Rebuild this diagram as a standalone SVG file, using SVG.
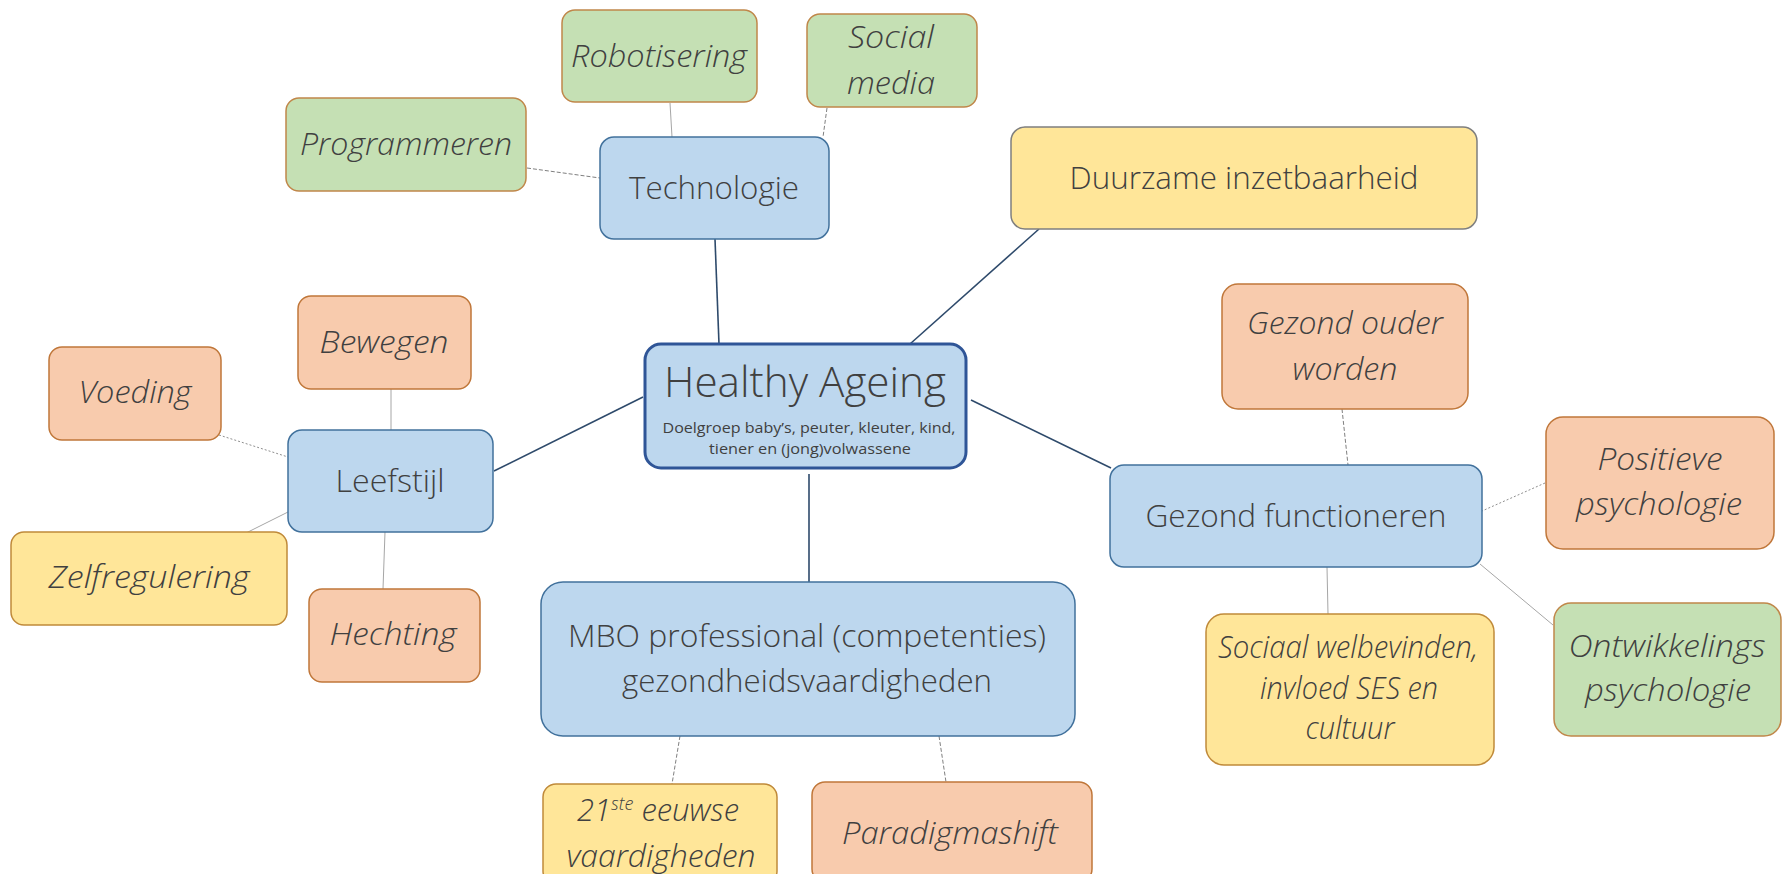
<svg xmlns="http://www.w3.org/2000/svg" width="1783" height="874" viewBox="0 0 1783 874">
<style>
.b{fill:#bdd7ee;stroke:#41719c;stroke-width:1.5}
.g{fill:#c5e0b4;stroke:#c0874a;stroke-width:1.5}
.o{fill:#f8cbad;stroke:#c0773a;stroke-width:1.5}
.y{fill:#ffe699;stroke:#c08a3a;stroke-width:1.5}
.yg{fill:#ffe699;stroke:#7f7f7f;stroke-width:1.5}
.core{fill:#bdd7ee;stroke:#2f5597;stroke-width:3}
text{font-family:"Open Sans","Liberation Sans",sans-serif;fill:#404040;text-anchor:middle;font-weight:300}
.t{font-size:31px}
.i{font-size:31px;font-style:italic}
.main{stroke:#2e4a6b;stroke-width:1.6;fill:none}
.sub{stroke:#a6a6a6;stroke-width:1;fill:none}
.dash{stroke:#7f7f7f;stroke-width:1;stroke-dasharray:4 2;fill:none}
.dot{stroke:#8f8f8f;stroke-width:1;stroke-dasharray:2 2;fill:none}
</style>
<rect width="1783" height="874" fill="#ffffff"/>
<g id="connectors">
<line class="main" x1="715" y1="239" x2="719" y2="344"/>
<line class="main" x1="1039" y1="229" x2="910" y2="344"/>
<line class="main" x1="494" y1="471" x2="643" y2="397"/>
<line class="main" x1="809" y1="474" x2="809" y2="582"/>
<line class="main" x1="971" y1="400" x2="1111" y2="468"/>
<line class="dash" x1="527" y1="168" x2="600" y2="178"/>
<line class="sub" x1="670" y1="103" x2="672" y2="137"/>
<line class="dash" x1="827" y1="108" x2="823" y2="137"/>
<line class="sub" x1="391" y1="389" x2="391" y2="430"/>
<line class="dot" x1="219" y1="435" x2="288" y2="457"/>
<line class="sub" x1="244" y1="534" x2="288" y2="512"/>
<line class="sub" x1="383" y1="589" x2="385" y2="532"/>
<line class="dash" x1="1342" y1="409" x2="1348" y2="465"/>
<line class="dot" x1="1545" y1="483" x2="1482" y2="511"/>
<line class="sub" x1="1480" y1="564" x2="1553" y2="625"/>
<line class="sub" x1="1327" y1="567" x2="1328" y2="614"/>
<line class="dash" x1="680" y1="736" x2="672" y2="784"/>
<line class="dash" x1="939" y1="736" x2="946" y2="782"/>
</g>
<g id="robotisering"><rect class="g" x="562" y="10" width="195" height="92" rx="13"/><text class="i" x="659" y="67" textLength="176" lengthAdjust="spacingAndGlyphs">Robotisering</text></g>
<g id="social-media"><rect class="g" x="807" y="14" width="170" height="93" rx="13"/><text class="i" x="891" y="48" textLength="86" lengthAdjust="spacingAndGlyphs">Social</text><text class="i" x="891" y="94" textLength="88" lengthAdjust="spacingAndGlyphs">media</text></g>
<g id="programmeren"><rect class="g" x="286" y="98" width="240" height="93" rx="13"/><text class="i" x="406" y="155" textLength="212" lengthAdjust="spacingAndGlyphs">Programmeren</text></g>
<g id="technologie"><rect class="b" x="600" y="137" width="229" height="102" rx="14"/><text class="t" x="714" y="199" textLength="170" lengthAdjust="spacingAndGlyphs">Technologie</text></g>
<g id="duurzame"><rect class="yg" x="1011" y="127" width="466" height="102" rx="14"/><text class="t" x="1244" y="189" textLength="349" lengthAdjust="spacingAndGlyphs">Duurzame inzetbaarheid</text></g>
<g id="bewegen"><rect class="o" x="298" y="296" width="173" height="93" rx="13"/><text class="i" x="384" y="353" textLength="129" lengthAdjust="spacingAndGlyphs">Bewegen</text></g>
<g id="voeding"><rect class="o" x="49" y="347" width="172" height="93" rx="13"/><text class="i" x="135" y="403" textLength="113" lengthAdjust="spacingAndGlyphs">Voeding</text></g>
<g id="leefstijl"><rect class="b" x="288" y="430" width="205" height="102" rx="14"/><text class="t" x="390" y="492" textLength="109" lengthAdjust="spacingAndGlyphs">Leefstijl</text></g>
<g id="zelfregulering"><rect class="y" x="11" y="532" width="276" height="93" rx="13"/><text class="i" x="149" y="588" textLength="201" lengthAdjust="spacingAndGlyphs">Zelfregulering</text></g>
<g id="hechting"><rect class="o" x="309" y="589" width="171" height="93" rx="13"/><text class="i" x="393" y="645" textLength="127" lengthAdjust="spacingAndGlyphs">Hechting</text></g>
<g id="healthy-ageing"><rect class="core" x="645" y="344" width="321" height="124" rx="16"/><text x="805" y="397" style="font-size:42px" textLength="282" lengthAdjust="spacingAndGlyphs">Healthy Ageing</text><text x="809" y="433" style="font-size:14.5px;font-weight:400" textLength="293" lengthAdjust="spacingAndGlyphs">Doelgroep baby’s, peuter, kleuter, kind,</text><text x="810" y="454" style="font-size:14.5px;font-weight:400" textLength="202" lengthAdjust="spacingAndGlyphs">tiener en (jong)volwassene</text></g>
<g id="gezond-ouder-worden"><rect class="o" x="1222" y="284" width="246" height="125" rx="16"/><text class="i" x="1345" y="334" textLength="196" lengthAdjust="spacingAndGlyphs">Gezond ouder</text><text class="i" x="1345" y="380" textLength="105" lengthAdjust="spacingAndGlyphs">worden</text></g>
<g id="positieve-psychologie"><rect class="o" x="1546" y="417" width="228" height="132" rx="17"/><text class="i" x="1660" y="470" textLength="125" lengthAdjust="spacingAndGlyphs">Positieve</text><text class="i" x="1659" y="515" textLength="166" lengthAdjust="spacingAndGlyphs">psychologie</text></g>
<g id="gezond-functioneren"><rect class="b" x="1110" y="465" width="372" height="102" rx="14"/><text class="t" x="1296" y="527" textLength="301" lengthAdjust="spacingAndGlyphs">Gezond functioneren</text></g>
<g id="sociaal-welbevinden"><rect class="y" x="1206" y="614" width="288" height="151" rx="18"/><text class="i" x="1348" y="658" textLength="260" lengthAdjust="spacingAndGlyphs">Sociaal welbevinden,</text><text class="i" x="1349" y="699" textLength="178" lengthAdjust="spacingAndGlyphs">invloed SES en</text><text class="i" x="1350" y="739" textLength="89" lengthAdjust="spacingAndGlyphs">cultuur</text></g>
<g id="ontwikkelings-psychologie"><rect class="g" x="1554" y="603" width="227" height="133" rx="17"/><text class="i" x="1667" y="657" textLength="197" lengthAdjust="spacingAndGlyphs">Ontwikkelings</text><text class="i" x="1668" y="701" textLength="166" lengthAdjust="spacingAndGlyphs">psychologie</text></g>
<g id="mbo-professional"><rect class="b" x="541" y="582" width="534" height="154" rx="22"/><text class="t" x="807" y="647" textLength="478" lengthAdjust="spacingAndGlyphs">MBO professional (competenties)</text><text class="t" x="807" y="692" textLength="370" lengthAdjust="spacingAndGlyphs">gezondheidsvaardigheden</text></g>
<g id="eeuwse-vaardigheden"><rect class="y" x="543" y="784" width="234" height="100" rx="13"/><text class="i" x="658" y="821">21<tspan style="font-size:18px" dy="-11">ste</tspan><tspan dy="11"> eeuwse</tspan></text><text class="i" x="661" y="867" textLength="189" lengthAdjust="spacingAndGlyphs">vaardigheden</text></g>
<g id="paradigmashift"><rect class="o" x="812" y="782" width="280" height="100" rx="13"/><text class="i" x="950" y="844" textLength="216" lengthAdjust="spacingAndGlyphs">Paradigmashift</text></g>
</svg>
